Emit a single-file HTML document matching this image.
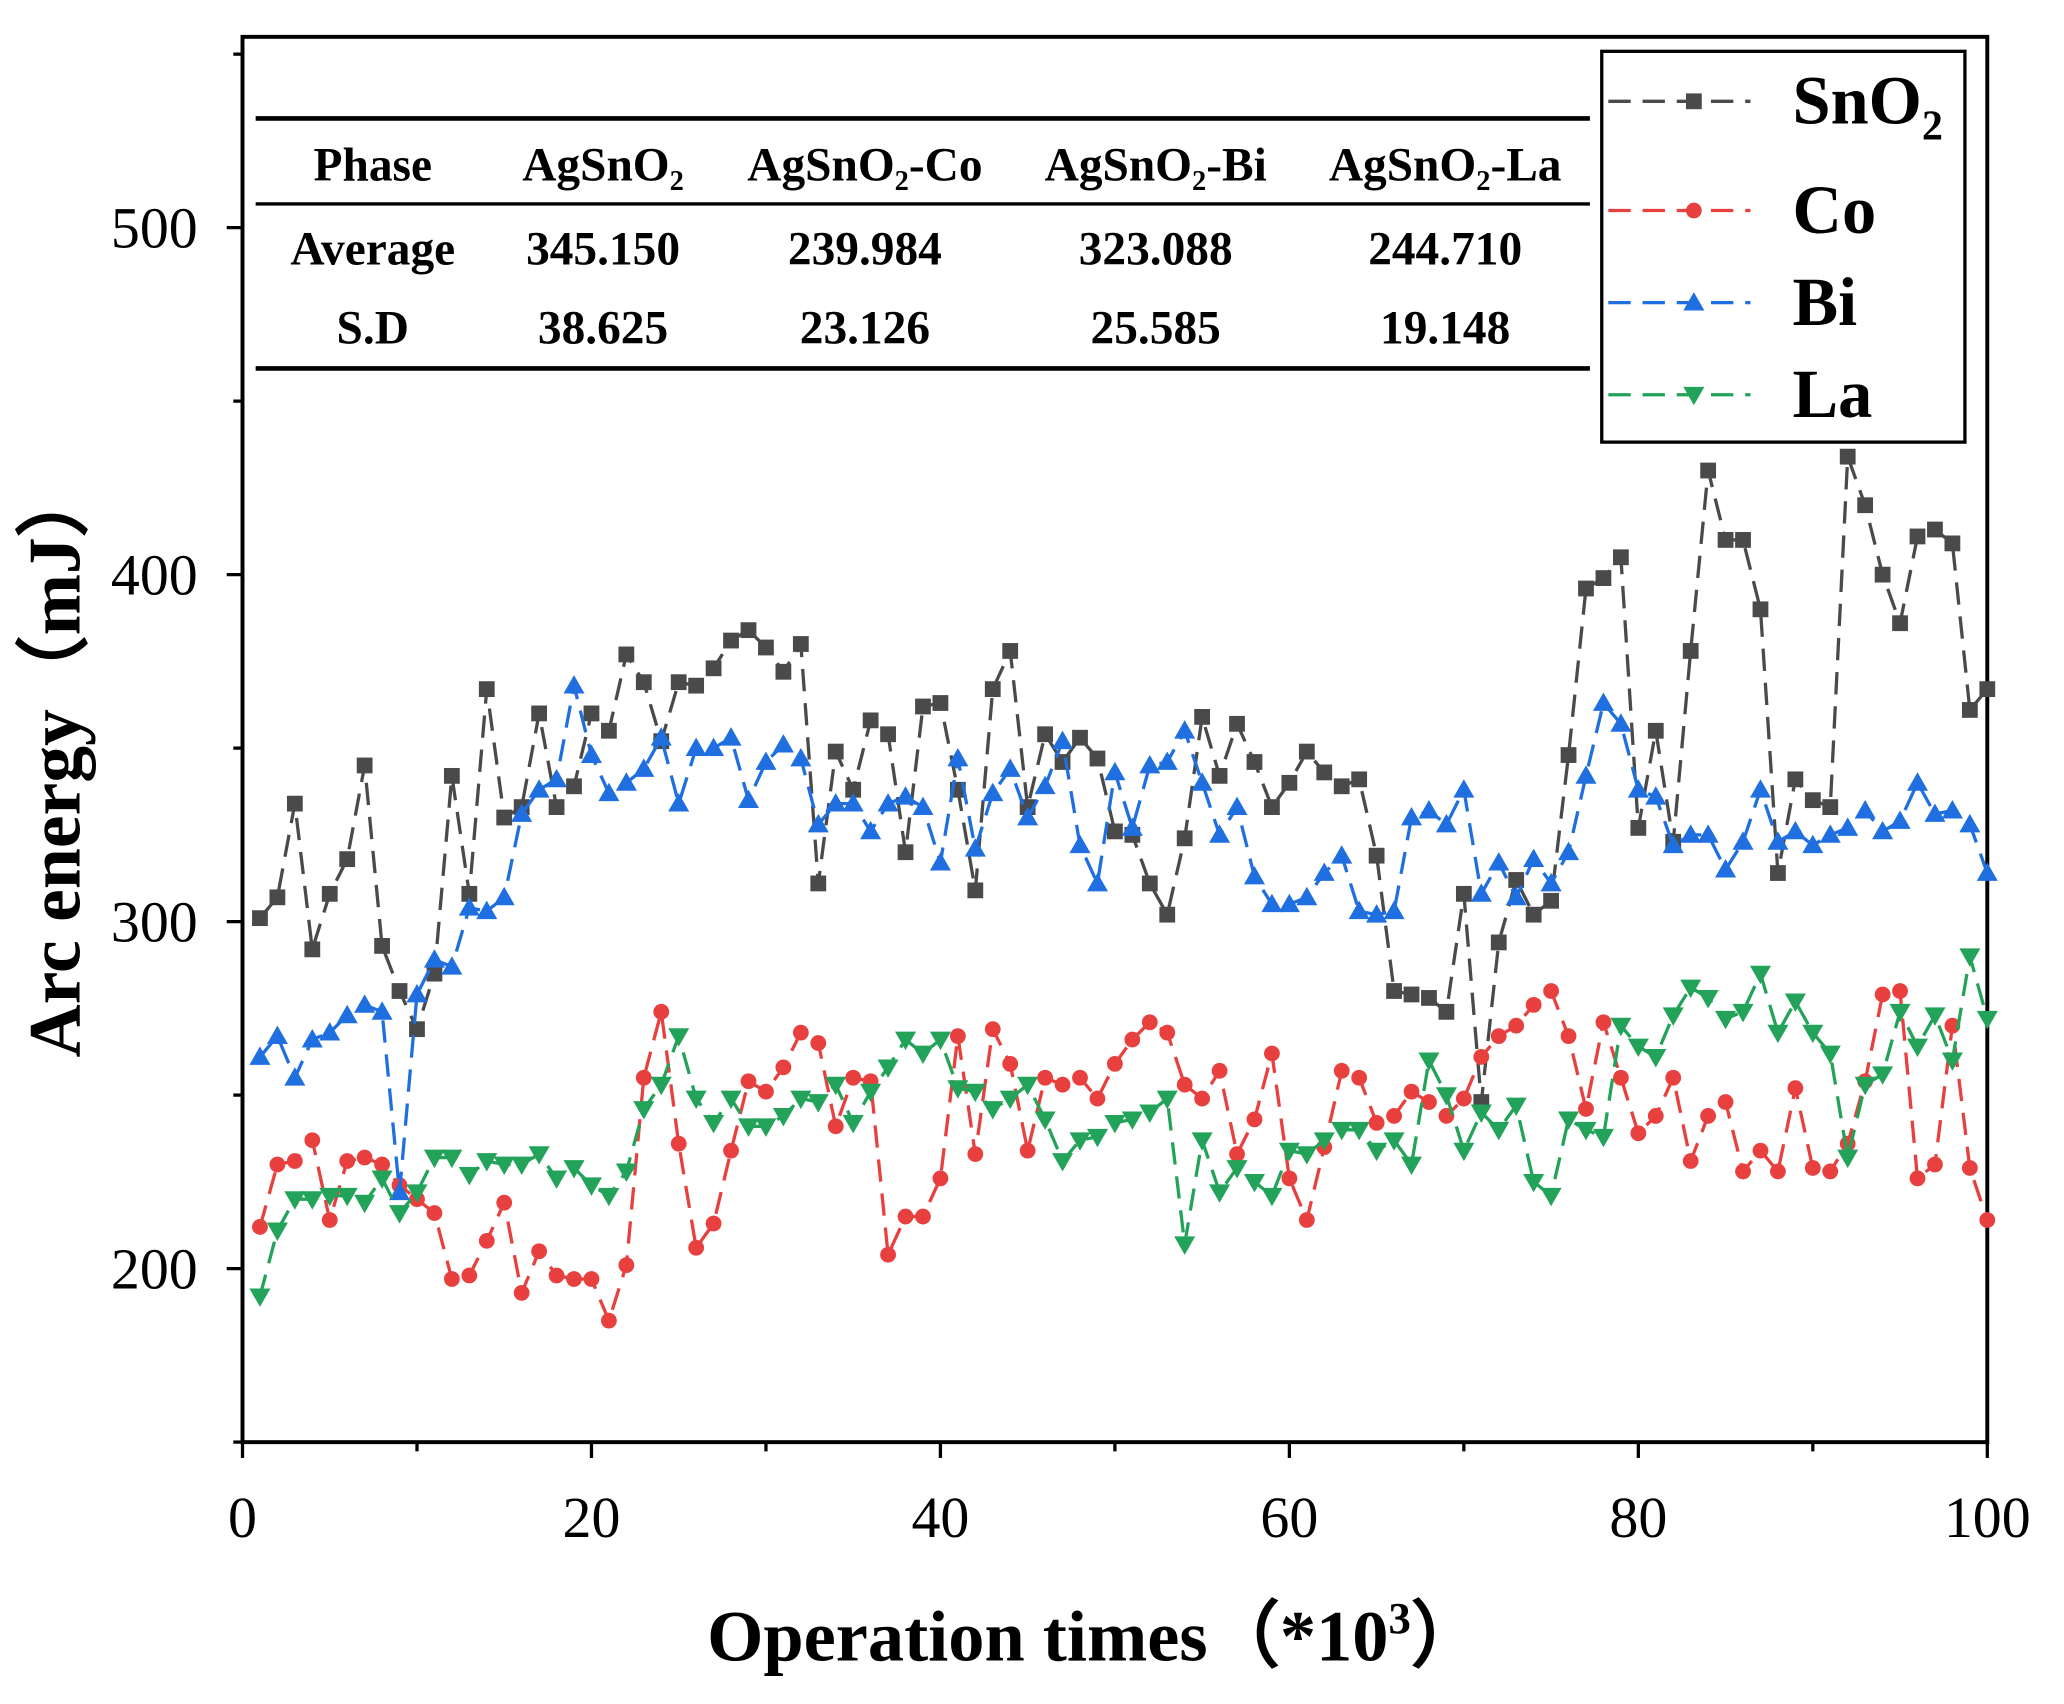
<!DOCTYPE html>
<html><head><meta charset="utf-8"><style>
html,body{margin:0;padding:0;background:#fff}
svg{display:block}
text{font-family:"Liberation Serif",serif}
</style></head><body>
<svg id="chart" width="2064" height="1704" viewBox="0 0 1568 1295" xmlns="http://www.w3.org/2000/svg">
<g id="plot"></g>
</svg>
<script>
const xValues = Array.from({length:100},(_, i)=>i+1);
const sno2 = [301,307,334,292,308,318,345,293,280,269,285,342,308,367,330,333,360,333,339,360,355,377,369,352,369,368,373,381,384,379,372,380,311,349,338,358,354,320,362,363,338,309,367,378,333,354,346,353,347,326,325,311,302,324,359,342,357,346,333,340,349,343,339,341,319,280,279,278,274,308,248,294,312,302,306,348,396,399,405,327,355,323,378,430,410,410,390,314,341,335,333,434,420,400,386,411,413,409,361,367];
const bi = [261,267,255,266,268,273,276,274,222,279,289,287,304,303,307,331,338,341,368,348,337,340,344,353,334,350,350,353,335,346,351,347,328,334,334,326,334,336,333,317,347,321,337,344,330,339,352,322,311,343,327,345,346,355,340,325,333,313,305,305,307,314,319,303,302,303,330,332,328,338,308,317,307,318,311,320,342,363,357,338,336,322,325,325,315,323,338,323,326,322,325,327,332,326,329,340,331,332,328,314];
const co = [212,230,231,237,214,231,232,230,224,220,216,197,198,208,219,193,205,198,197,197,185,201,255,274,236,206,213,234,254,251,258,268,265,241,255,254,204,215,215,226,267,233,269,259,234,255,253,255,249,259,266,271,268,253,249,257,233,243,262,226,214,235,257,255,242,244,251,248,244,249,261,267,270,276,280,267,246,271,255,239,244,255,231,244,248,228,234,228,252,229,228,236,254,279,280,226,230,270,229,214];
const la = [192,211,220,220,221,221,219,226,216,222,232,232,227,231,230,230,233,226,229,224,221,228,246,253,267,249,242,249,241,241,244,249,248,253,242,251,258,266,262,266,252,251,246,249,253,243,231,237,238,242,243,245,249,207,237,222,229,225,221,234,233,237,240,240,234,237,230,260,250,234,245,240,247,225,221,243,240,238,270,264,261,273,281,278,272,274,285,268,277,268,262,232,253,256,274,264,273,260,290,272];
const xTicks = [0,20,40,60,80,100];
const yTicks = [200,300,400,500];
const tableHeader = ["Phase","AgSnO₂","AgSnO₂-Co","AgSnO₂-Bi","AgSnO₂-La"];
const tableAvg = ["Average","345.150","239.984","323.088","244.710"];
const tableSD = ["S.D","38.625","23.126","25.585","19.148"];

const L=184,R=1510,T=28,B=1096;
const xs=v=>L+(v-0)/100*(R-L);
const ys=v=>173+(500-v)*2.637;
const NS="http://www.w3.org/2000/svg";
const g=document.getElementById('plot');
function el(t,a,p){const e=document.createElementNS(NS,t);for(const k in a)e.setAttribute(k,a[k]);(p||g).appendChild(e);return e;}

const frame=el('rect',{x:L,y:T,width:R-L,height:B-T,fill:'none',stroke:'#000','stroke-width':3});


for(let v=0;v<=100;v+=10){
  const t=el('line',{x1:xs(v),x2:xs(v),y1:B,y2:B+(v%20===0?12:7),stroke:'#000','stroke-width':2.5});
  
  
}
xTicks.forEach(v=>{
  const t=el('text',{x:xs(v),y:1168,'font-size':44,'text-anchor':'middle'});t.textContent=v;
  
  
});
for(let v=150;v<=550;v+=50){
  const t=el('line',{x1:L,x2:L-(v%100===0?12:7),y1:ys(v),y2:ys(v),stroke:'#000','stroke-width':2.5});
  
  
}
yTicks.forEach(v=>{
  const t=el('text',{x:150,y:ys(v)+15,'font-size':44,'text-anchor':'end'});t.textContent=v;
  
  
});
const xt=el('text',{x:832,y:1262,'font-size':55,'font-weight':'bold','text-anchor':'middle'});
xt.innerHTML='Operation times（*10<tspan font-size="34" dy="-21">3</tspan><tspan dy="21">）</tspan>';


const yt=el('text',{x:0,y:0,'font-size':56,'font-weight':'bold','text-anchor':'middle',transform:'translate(60,578) rotate(-90)'});
yt.textContent='Arc energy（mJ）';



function marker(type,x,y,c,parent){
  let m;
  if(type==='sq') m=el('rect',{x:x-6,y:y-6,width:12,height:12,fill:c},parent);
  else if(type==='ci') m=el('circle',{cx:x,cy:y,r:6,fill:c},parent);
  else if(type==='up') m=el('polygon',{points:`${x},${y-8} ${x-8},${y+6} ${x+8},${y+6}`,fill:c},parent);
  else m=el('polygon',{points:`${x},${y+8} ${x-8},${y-6} ${x+8},${y-6}`,fill:c},parent);
  return m;
}
const series=[
  {name:'sno2',data:sno2,c:'#4a4a4a',m:'sq'},
  {name:'co',data:co,c:'#e8403e',m:'ci'},
  {name:'bi',data:bi,c:'#1f6fe0',m:'up'},
  {name:'la',data:la,c:'#23a35a',m:'dn'}];
series.forEach(s=>{
  const sg=el('g',{});
  
  
  const pts=s.data.map((v,i)=>xs(xValues[i])+','+ys(v)).join(' ');
  const pl=el('polyline',{points:pts,fill:'none',stroke:s.c,'stroke-width':2.5,'stroke-dasharray':'17,9'},sg);
  
  
  s.data.forEach((v,i)=>{
    const m=marker(s.m,xs(xValues[i]),ys(v),s.c,sg);
    
    
  });
});

const tg=el('g',{});


[[90,3.5],[155,2.5],[280,3.5]].forEach(([y,w])=>el('line',{x1:194,x2:1208,y1:y,y2:y,stroke:'#000','stroke-width':w},tg));
const cols=[283,458,657,878,1098];
[[tableHeader,137],[tableAvg,201],[tableSD,261]].forEach(([row,y])=>{
  row.forEach((s,i)=>{
    const t=el('text',{x:cols[i],y:y,'font-size':36,'font-weight':'bold','text-anchor':'middle'},tg);t.textContent=s;
    
    
  });
});

const lg=el('g',{});


el('rect',{x:1217,y:39,width:276,height:297,fill:'#fff',stroke:'#000','stroke-width':2.5},lg);
const labels=['SnO<tspan font-size="32" dy="12">2</tspan>','Co','Bi','La'];
[77,160,230,300].forEach((y,i)=>{
  const s=series[i];
  const e=el('g',{},lg);
  
  
  el('line',{x1:1222,x2:1330,y1:y,y2:y,stroke:s.c,'stroke-width':2.5,'stroke-dasharray':'17,9'},e);
  marker(s.m,1287,y,s.c,e);
  const t=el('text',{x:1362,y:y+17,'font-size':52,'font-weight':'bold'},e);t.innerHTML=labels[i];
});
</script>
</body></html>
